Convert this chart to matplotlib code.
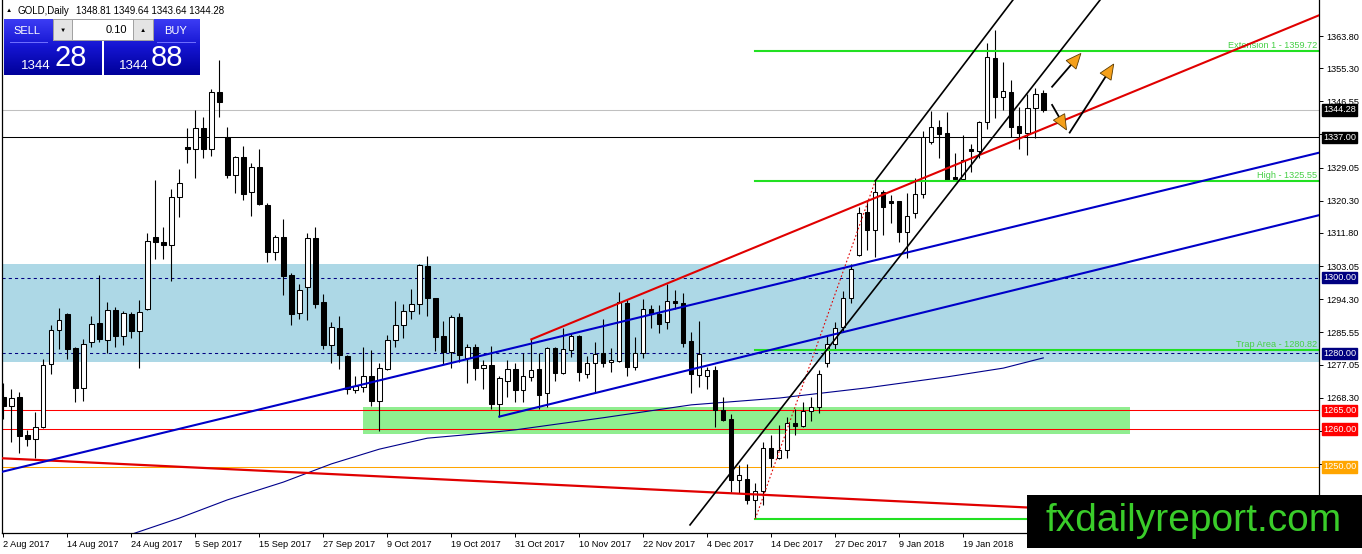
import matplotlib
matplotlib.use("Agg")
import matplotlib.pyplot as plt
import numpy as np
from matplotlib.patches import Rectangle, Polygon
from matplotlib.collections import LineCollection
from matplotlib.colors import LinearSegmentedColormap

plt.rcParams['font.family'] = ['Liberation Sans', 'DejaVu Sans']

# ---------------- data (daily GOLD candles, bar 0 = 2 Aug 2017) ----------------
opens = [1268.5, 1266.2, 1268.4, 1258.4, 1257.3, 1260.5, 1277.1, 1286.1, 1290.4, 1281.3,
         1270.9, 1283.0, 1288.0, 1283.4, 1291.4, 1284.7, 1290.4, 1286.0, 1291.7, 1310.6,
         1309.4, 1308.5, 1321.2, 1334.4, 1333.9, 1339.4, 1333.9, 1348.9, 1337.0, 1327.2,
         1331.8, 1322.5, 1329.1, 1319.2, 1306.8, 1310.6, 1300.7, 1290.6, 1297.6, 1310.4,
         1293.5, 1282.2, 1286.6, 1279.3, 1270.3, 1271.2, 1274.1, 1267.5, 1275.8, 1283.5,
         1287.4, 1291.3, 1292.9, 1303.1, 1294.5, 1284.6, 1280.4, 1289.5, 1278.7, 1281.6,
         1276.0, 1276.9, 1266.6, 1272.7, 1275.9, 1270.3, 1273.8, 1275.9, 1269.4, 1281.3,
         1274.7, 1280.9, 1284.6, 1274.5, 1277.5, 1280.0, 1277.6, 1278.1, 1293.2, 1276.3,
         1280.0, 1291.6, 1290.4, 1288.4, 1293.9, 1293.4, 1283.2, 1274.3, 1274.0, 1275.6,
         1265.0, 1262.6, 1246.5, 1246.7, 1241.4, 1243.7, 1254.9, 1252.3, 1254.6, 1261.5,
         1260.8, 1264.9, 1265.9, 1277.5, 1282.6, 1286.9, 1294.5, 1306.0, 1317.4, 1312.7,
         1322.5, 1320.1, 1320.1, 1312.1, 1317.0, 1322.2, 1335.9, 1339.9, 1338.1, 1326.6,
         1326.0, 1333.9, 1333.4, 1341.0, 1357.9, 1347.6, 1348.9, 1340.0, 1338.1, 1344.7,
         1348.81]
highs = [1272.2, 1270.5, 1269.7, 1259.8, 1264.6, 1278.4, 1287.5, 1291.9, 1290.6, 1281.6,
         1283.8, 1289.9, 1300.7, 1293.6, 1292.3, 1291.1, 1290.8, 1294.0, 1311.7, 1325.8,
         1313.3, 1323.3, 1328.6, 1339.4, 1344.3, 1342.3, 1349.7, 1357.5, 1339.9, 1332.1,
         1334.7, 1330.2, 1334.0, 1319.6, 1311.2, 1315.6, 1301.3, 1298.2, 1311.9, 1313.3,
         1295.7, 1288.4, 1289.9, 1279.6, 1274.0, 1281.6, 1280.9, 1277.4, 1284.8, 1293.8,
         1292.9, 1296.9, 1303.5, 1305.7, 1294.6, 1288.6, 1290.1, 1290.7, 1282.6, 1282.6,
         1278.2, 1281.9, 1273.9, 1278.2, 1277.4, 1280.2, 1283.7, 1280.0, 1281.6, 1281.6,
         1286.6, 1285.5, 1284.8, 1279.3, 1283.1, 1289.0, 1281.3, 1296.3, 1294.3, 1284.2,
         1294.3, 1292.8, 1292.8, 1298.3, 1296.7, 1296.0, 1285.7, 1288.6, 1276.5, 1276.7,
         1268.6, 1264.0, 1250.5, 1250.9, 1245.7, 1256.7, 1258.4, 1261.1, 1263.3, 1265.2,
         1267.2, 1268.4, 1275.6, 1284.6, 1288.4, 1296.5, 1303.6, 1318.6, 1320.1, 1325.55,
         1323.1, 1321.8, 1320.1, 1322.3, 1326.2, 1338.7, 1344.0, 1341.6, 1343.6, 1332.8,
         1337.7, 1335.4, 1341.3, 1361.9, 1365.4, 1357.0, 1352.2, 1345.1, 1348.4, 1350.0,
         1349.64]
lows = [1262.6, 1256.7, 1253.8, 1255.5, 1252.3, 1260.2, 1274.5, 1281.1, 1278.4, 1267.1,
        1267.5, 1281.6, 1283.0, 1280.0, 1281.8, 1282.3, 1284.1, 1276.2, 1291.4, 1304.8,
        1304.8, 1299.2, 1316.1, 1330.2, 1326.2, 1331.5, 1332.1, 1342.5, 1326.2, 1322.4,
        1320.5, 1316.3, 1319.2, 1304.2, 1304.6, 1295.4, 1287.5, 1289.1, 1288.8, 1291.9,
        1281.1, 1277.4, 1275.8, 1269.3, 1269.6, 1269.9, 1266.1, 1259.6, 1275.6, 1281.6,
        1284.0, 1289.1, 1290.4, 1289.9, 1280.7, 1277.2, 1276.0, 1277.8, 1272.3, 1273.0,
        1270.5, 1265.2, 1263.3, 1268.4, 1267.2, 1267.2, 1272.8, 1265.2, 1265.9, 1272.8,
        1274.5, 1279.1, 1272.8, 1273.4, 1269.9, 1276.3, 1275.2, 1277.8, 1274.0, 1275.6,
        1278.7, 1286.6, 1285.5, 1286.3, 1291.6, 1281.6, 1269.6, 1271.0, 1270.5, 1260.5,
        1262.2, 1243.5, 1243.2, 1240.2, 1236.3, 1239.9, 1250.1, 1252.0, 1252.3, 1258.4,
        1260.5, 1262.2, 1264.3, 1276.5, 1281.1, 1286.0, 1293.4, 1305.7, 1307.3, 1305.5,
        1311.3, 1314.3, 1309.5, 1305.1, 1315.7, 1321.1, 1335.2, 1331.7, 1325.8, 1325.8,
        1325.8, 1328.0, 1331.5, 1339.2, 1342.2, 1344.3, 1337.2, 1334.0, 1332.4, 1336.8,
        1343.64]
closes = [1266.2, 1268.1, 1258.3, 1257.3, 1260.5, 1276.8, 1286.1, 1288.7, 1281.2, 1270.9,
          1282.6, 1287.8, 1283.8, 1291.4, 1284.7, 1290.6, 1286.0, 1290.8, 1309.6, 1309.3,
          1308.5, 1321.2, 1324.9, 1333.9, 1339.4, 1333.9, 1348.9, 1346.3, 1327.2, 1331.8,
          1322.1, 1329.1, 1319.4, 1306.8, 1310.6, 1300.5, 1290.4, 1296.7, 1310.4, 1293.0,
          1282.2, 1286.9, 1279.6, 1270.5, 1271.4, 1274.1, 1267.5, 1276.0, 1283.5, 1287.4,
          1291.2, 1292.9, 1303.3, 1294.5, 1284.4, 1280.4, 1289.5, 1279.6, 1281.6, 1276.0,
          1276.8, 1266.6, 1273.4, 1275.8, 1270.3, 1274.0, 1275.6, 1269.0, 1281.3, 1274.7,
          1281.1, 1284.6, 1275.2, 1277.5, 1279.7, 1277.5, 1278.2, 1293.6, 1276.3, 1280.0,
          1291.6, 1290.4, 1287.7, 1293.9, 1293.2, 1282.8, 1274.5, 1279.8, 1275.6, 1265.0,
          1262.4, 1246.5, 1247.9, 1241.4, 1243.7, 1254.9, 1252.3, 1254.6, 1261.5, 1260.8,
          1264.9, 1265.9, 1274.5, 1282.5, 1286.6, 1294.5, 1302.2, 1317.0, 1312.7, 1322.5,
          1318.7, 1319.8, 1312.1, 1316.4, 1322.0, 1337.2, 1339.7, 1337.8, 1325.8, 1326.0,
          1331.1, 1333.4, 1341.0, 1358.2, 1347.8, 1349.4, 1339.9, 1338.1, 1344.7, 1348.4,
          1344.28]

date_label_bars = [0, 8, 16, 24, 32, 40, 48, 56, 64, 72, 80, 88, 96, 104, 112, 120]
date_labels = ["2 Aug 2017", "14 Aug 2017", "24 Aug 2017", "5 Sep 2017", "15 Sep 2017",
               "27 Sep 2017", "9 Oct 2017", "19 Oct 2017", "31 Oct 2017", "10 Nov 2017",
               "22 Nov 2017", "4 Dec 2017", "14 Dec 2017", "27 Dec 2017", "9 Jan 2018",
               "19 Jan 2018"]
price_ticks = [1363.80, 1355.30, 1346.55, 1337.80, 1329.05, 1320.30, 1311.80, 1303.05,
               1294.30, 1285.55, 1277.05, 1268.30, 1259.55, 1250.80, 1242.05]
# tick labels that are completely covered by the marker boxes / logo in the reference
hidden_tick_labels = [1337.80, 1259.55, 1250.80, 1242.05]

# moving average (thin navy curve)
ma_bars = [15, 22, 28, 35, 41, 47, 53, 60, 64, 75, 86, 97, 108, 118, 125, 130]
ma_vals = [1231.5, 1236.5, 1241.3, 1246.0, 1250.8, 1254.7, 1257.6, 1258.9, 1259.8,
           1263.0, 1266.4, 1268.2, 1270.9, 1273.8, 1276.1, 1278.8]

# horizontal levels
bid_price = 1344.28
black_level = 1337.00
dashed_levels = [1300.00, 1280.00]
red_levels = [1265.00, 1260.00]
orange_level = 1250.00
blue_zone = [1277.6, 1303.7]
green_zone_bars = [45.0, 140.8]
green_zone_prices = [1258.6, 1265.75]

# fibonacci lines (start at the swing low bar)
fib_start_bar = 94
fib_prices = [1359.72, 1325.55, 1280.82, 1236.3]
fib_labels = ["Extension 1 - 1359.72", "High - 1325.55", "Trap Area - 1280.82", ""]
fib_link_bars = [94, 109]
fib_link_prices = [1236.3, 1325.55]

# trendlines (bar index, price)
red_up_bars, red_up_prices = [66, 164.5], [1283.7, 1369.3]
red_down_bars, red_down_prices = [-0.2, 164.5], [1252.3, 1235.6]
blue_up_bars, blue_up_prices = [-0.2, 164.5], [1248.7, 1333.0]
blue_low_bars, blue_low_prices = [62, 164.5], [1263.3, 1316.5]
chan_a_bars, chan_a_prices = [85.84, 137.09], [1234.7, 1373.3]
chan_b_bars, chan_b_prices = [109, 126.2], [1325.55, 1373.3]

# projection arrows
arrow_start_bars = [131.1, 131.1, 133.3]
arrow_start_prices = [1350.4, 1345.6, 1338.3]
arrow_end_bars = [134.7, 132.9, 138.8]
arrow_end_prices = [1359.2, 1339.0, 1356.4]

# price-axis marker boxes
box_prices = [1344.28, 1337.00, 1300.00, 1280.00, 1265.00, 1260.00, 1250.00]
box_colors = ['black', 'black', '#000080', '#000080', '#FF0000', '#FF0000', '#FFA500']

# ---------------- figure ----------------
W, H = 1362, 554
fig = plt.figure(figsize=(W / 100, H / 100), dpi=100)
PL, PR, PT, PB = 2, 1319, 0, 533
ax = fig.add_axes([PL / W, 1 - PB / H, (PR - PL) / W, (PB - PT) / H])
ax.set_facecolor('white')
x_lo, x_hi = (PL - 3.3) / 8, (PR - 3.3) / 8
y_lo, y_hi = 1363.8 - (PB - 36) / 3.787, 1363.8 + 36 / 3.787
ax.set_xlim(x_lo, x_hi)
ax.set_ylim(y_lo, y_hi)

# zones
ax.axhspan(blue_zone[0], blue_zone[1], color='#ADD8E6', zorder=0.5, lw=0)
ax.add_patch(Rectangle((green_zone_bars[0], green_zone_prices[0]),
                       green_zone_bars[1] - green_zone_bars[0],
                       green_zone_prices[1] - green_zone_prices[0],
                       fc='#90EE90', ec='none', zorder=0.6))

# horizontal levels
ax.axhline(bid_price, color='#C0C0C0', lw=0.75, zorder=1)
ax.axhline(black_level, color='black', lw=0.75, zorder=1)
for p in dashed_levels:
    ax.axhline(p, color='#000080', lw=0.75, ls=(0, (3, 3)), zorder=1)
for p in red_levels:
    ax.axhline(p, color='#FF0000', lw=0.75, zorder=1)
ax.axhline(orange_level, color='#FFA500', lw=0.75, zorder=1)

# moving average
ax.plot(ma_bars, ma_vals, color='#00008B', lw=0.8, zorder=1.5)

# candles
wicks = [[(i, l), (i, h)] for i, (l, h) in enumerate(zip(lows, highs))]
ax.add_collection(LineCollection(wicks, colors='black', linewidths=0.8, zorder=2))
bw = 0.55
for i, (o, c) in enumerate(zip(opens, closes)):
    bot = min(o, c)
    ht = max(abs(c - o), 0.12)
    fc = 'white' if c >= o else 'black'
    ax.add_patch(Rectangle((i - bw / 2, bot), bw, ht, fc=fc, ec='black', lw=0.75, zorder=2.2))

# fib lines
grn = '#22E022'
for p, lab in zip(fib_prices, fib_labels):
    ax.plot([fib_start_bar, x_hi], [p, p], color=grn, lw=1.5, zorder=2.5)
    if lab:
        ax.annotate(lab, xy=(1, p), xycoords=('axes fraction', 'data'), xytext=(-2, 1),
                    textcoords='offset pixels', ha='right', va='bottom',
                    fontsize=6.6, color='#46D046', zorder=2.6)
ax.plot(fib_link_bars, fib_link_prices, color='#E00000', lw=0.8, ls=(0, (1.5, 2)), zorder=2.5)

# trendlines
ax.plot(red_up_bars, red_up_prices, color='#E00000', lw=1.5, zorder=3)
ax.plot(red_down_bars, red_down_prices, color='#E00000', lw=1.6, zorder=3)
ax.plot(blue_up_bars, blue_up_prices, color='#0000C8', lw=1.5, zorder=3)
ax.plot(blue_low_bars, blue_low_prices, color='#0000C8', lw=1.5, zorder=3)
ax.plot(chan_a_bars, chan_a_prices, color='black', lw=1.2, zorder=3)
ax.plot(chan_b_bars, chan_b_prices, color='black', lw=1.2, zorder=3)

# arrows
fig.canvas.draw()
inv = ax.transData.inverted()
for sb, sp, eb, ep in zip(arrow_start_bars, arrow_start_prices, arrow_end_bars, arrow_end_prices):
    p0 = ax.transData.transform((sb, sp))
    p1 = ax.transData.transform((eb, ep))
    d = (p1 - p0) / np.hypot(*(p1 - p0))
    n = np.array([-d[1], d[0]])
    base = p1 - d * 15
    tri = np.array([p1, base + n * 6.5, base - n * 6.5])
    line_end = inv.transform(base + d * 2)
    ax.plot([sb, line_end[0]], [sp, line_end[1]], color='black', lw=1.3, zorder=3.5)
    ax.add_patch(Polygon(inv.transform(tri), closed=True, fc='#F5A01A', ec='#5A3A00',
                         lw=0.6, zorder=3.6))

# axes styling
ax.spines['top'].set_visible(False)
for s in ['left', 'right', 'bottom']:
    ax.spines[s].set_linewidth(0.9)
    ax.spines[s].set_color('black')
ax.yaxis.tick_right()
ax.set_yticks(price_ticks)
ax.set_yticklabels(["" if p in hidden_tick_labels else f"{p:.2f}" for p in price_ticks])
ax.tick_params(axis='y', direction='out', length=3, width=0.7, pad=2, labelsize=6.6)
ax.set_xticks(date_label_bars)
ax.set_xticklabels(date_labels, ha='left')
ax.tick_params(axis='x', direction='out', length=3, width=0.7, pad=2, labelsize=6.6)

for p, col in zip(box_prices, box_colors):
    ax.annotate(f"{p:.2f}", xy=(1, p), xycoords=('axes fraction', 'data'), xytext=(4, 0),
                textcoords='offset pixels', ha='left', va='center', fontsize=6.6,
                color='white', annotation_clip=False, zorder=5,
                bbox=dict(boxstyle='square,pad=0.12', fc=col, ec=col))

# ---------------- overlay (trading panel & logo) ----------------
ov = fig.add_axes([0, 0, 1, 1], zorder=10)
ov.patch.set_visible(False)
ov.axis('off')
cmap = LinearSegmentedColormap.from_list('mt', ['#3C3CF4', '#1414D0', '#00009A'])
grad = np.linspace(0, 1, 64).reshape(-1, 1)
for x0, x1 in [(4, 102), (104, 200)]:
    ov.imshow(grad, extent=(x0, x1, 75, 19), cmap=cmap, aspect='auto',
              interpolation='bilinear', zorder=1)
ov.set_xlim(0, W)
ov.set_ylim(H, 0)
ov.plot([10, 47], [42, 42], color='#7070FF', lw=0.7, zorder=2)
ov.plot([157, 195], [42, 42], color='#7070FF', lw=0.7, zorder=2)
ov.add_patch(Rectangle((53, 19), 100, 21, fc='white', ec='#A0A0A0', lw=0.7, zorder=2))
ov.add_patch(Rectangle((53, 19), 19, 21, fc='#E4E4E4', ec='#A0A0A0', lw=0.7, zorder=2))
ov.add_patch(Rectangle((133, 19), 20, 21, fc='#E4E4E4', ec='#A0A0A0', lw=0.7, zorder=2))
ov.text(62.5, 30, "▼", fontsize=4.5, ha='center', va='center', color='black', zorder=3)
ov.text(143, 30, "▲", fontsize=4.5, ha='center', va='center', color='black', zorder=3)
ov.text(127, 30, "0.10", fontsize=8, ha='right', va='center', color='black', zorder=3)
ov.text(27, 31, "SELL", fontsize=8, ha='center', va='center', color='white', zorder=3)
ov.text(176, 31, "BUY", fontsize=8, ha='center', va='center', color='white', zorder=3)
ov.text(36, 66, "1344", fontsize=9.5, ha='center', va='center', color='white', zorder=3)
ov.text(71, 58, "28", fontsize=21, ha='center', va='center', color='white', zorder=3)
ov.text(134, 66, "1344", fontsize=9.5, ha='center', va='center', color='white', zorder=3)
ov.text(167, 58, "88", fontsize=21, ha='center', va='center', color='white', zorder=3)
ov.text(8.5, 10.5, "▲", fontsize=4.5, ha='center', va='center', color='black', zorder=3)
ov.text(17, 10.5, "GOLD,Daily", fontsize=7, ha='left', va='center', color='black', zorder=3)
ov.text(76, 10.5, "1348.81 1349.64 1343.64 1344.28", fontsize=7, ha='left', va='center',
        color='black', zorder=3)

ov.add_patch(Rectangle((1027, 495), 335, 53, fc='black', ec='none', zorder=4))
ov.text(1194, 521, "fxdailyreport.com", fontsize=28, ha='center', va='center',
        color='#3ACC2A', zorder=5)

fig.savefig("out.png", dpi=100)
